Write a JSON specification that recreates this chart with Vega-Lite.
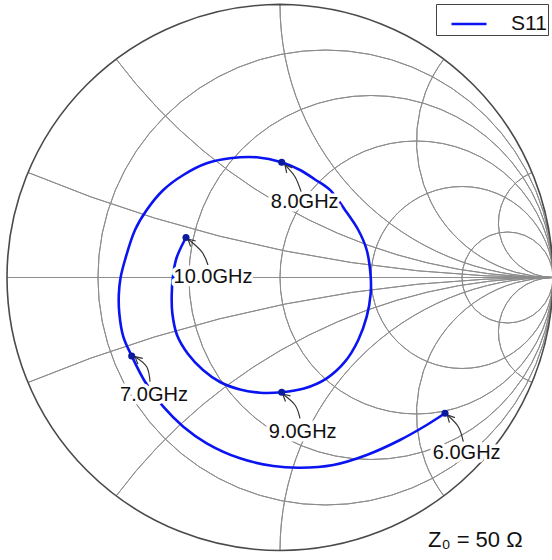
{
  "$schema": "https://vega.github.io/schema/vega-lite/v6.json",
  "width": 552,
  "height": 560,
  "padding": 0,
  "autosize": {"type": "none"},
  "background": "white",
  "config": {"view": {"stroke": null}, "font": "Liberation Sans"},
  "datasets": {
    "grid": [
      {"u": 0.16667, "v": 0, "rad": 0.83333, "t0": 0, "t1": 6.28319},
      {"u": 0.33333, "v": 0, "rad": 0.66667, "t0": 0, "t1": 6.28319},
      {"u": 0.5, "v": 0, "rad": 0.5, "t0": 0, "t1": 6.28319},
      {"u": 0.66667, "v": 0, "rad": 0.33333, "t0": 0, "t1": 6.28319},
      {"u": 0.83333, "v": 0, "rad": 0.16667, "t0": 0, "t1": 6.28319},
      {"u": 1, "v": 5, "rad": 5, "t0": 3.14159, "t1": 3.53638},
      {"u": 1, "v": 2, "rad": 2, "t0": 3.14159, "t1": 4.06889},
      {"u": 1, "v": 1, "rad": 1, "t0": 3.14159, "t1": 4.71239},
      {"u": 1, "v": 0.5, "rad": 0.5, "t0": 3.14159, "t1": 5.35589},
      {"u": 1, "v": 0.2, "rad": 0.2, "t0": 3.14159, "t1": 5.88839},
      {"u": 1, "v": -5, "rad": 5, "t0": -0.39479, "t1": 0},
      {"u": 1, "v": -2, "rad": 2, "t0": -0.9273, "t1": 0},
      {"u": 1, "v": -1, "rad": 1, "t0": -1.5708, "t1": 0},
      {"u": 1, "v": -0.5, "rad": 0.5, "t0": -2.2143, "t1": 0},
      {"u": 1, "v": -0.2, "rad": 0.2, "t0": -2.7468, "t1": 0}
    ],
    "outer": [{"u": 0, "v": 0, "rad": 1, "t0": 0, "t1": 6.28319}],
    "axisline": [{"u": -1, "u2": 1, "v": 0}],
    "s11": [
      {"series": "S11", "f": 6.0, "u": 0.6044, "v": -0.4974},
      {"series": "S11", "f": 6.083, "u": 0.5374, "v": -0.5403},
      {"series": "S11", "f": 6.167, "u": 0.4396, "v": -0.5952},
      {"series": "S11", "f": 6.25, "u": 0.3176, "v": -0.6502},
      {"series": "S11", "f": 6.333, "u": 0.1952, "v": -0.6868},
      {"series": "S11", "f": 6.417, "u": 0.0733, "v": -0.6967},
      {"series": "S11", "f": 6.5, "u": -0.0245, "v": -0.6905},
      {"series": "S11", "f": 6.583, "u": -0.1465, "v": -0.6623},
      {"series": "S11", "f": 6.667, "u": -0.2685, "v": -0.6073},
      {"series": "S11", "f": 6.75, "u": -0.3542, "v": -0.5465},
      {"series": "S11", "f": 6.833, "u": -0.4275, "v": -0.4733},
      {"series": "S11", "f": 6.917, "u": -0.4945, "v": -0.3817},
      {"series": "S11", "f": 7.0, "u": -0.5432, "v": -0.2875},
      {"series": "S11", "f": 7.077, "u": -0.574, "v": -0.2168},
      {"series": "S11", "f": 7.154, "u": -0.5886, "v": -0.1311},
      {"series": "S11", "f": 7.231, "u": -0.5905, "v": -0.0641},
      {"series": "S11", "f": 7.308, "u": -0.5842, "v": -0.0018},
      {"series": "S11", "f": 7.385, "u": -0.5678, "v": 0.0641},
      {"series": "S11", "f": 7.462, "u": -0.5311, "v": 0.174},
      {"series": "S11", "f": 7.538, "u": -0.4883, "v": 0.2473},
      {"series": "S11", "f": 7.615, "u": -0.4275, "v": 0.3205},
      {"series": "S11", "f": 7.692, "u": -0.3542, "v": 0.3755},
      {"series": "S11", "f": 7.769, "u": -0.2685, "v": 0.4183},
      {"series": "S11", "f": 7.846, "u": -0.1832, "v": 0.4366},
      {"series": "S11", "f": 7.923, "u": -0.0853, "v": 0.4403},
      {"series": "S11", "f": 8.0, "u": 0.0062, "v": 0.4223},
      {"series": "S11", "f": 8.071, "u": 0.0733, "v": 0.3938},
      {"series": "S11", "f": 8.143, "u": 0.1282, "v": 0.359},
      {"series": "S11", "f": 8.214, "u": 0.1832, "v": 0.3205},
      {"series": "S11", "f": 8.286, "u": 0.2381, "v": 0.2473},
      {"series": "S11", "f": 8.357, "u": 0.2868, "v": 0.174},
      {"series": "S11", "f": 8.429, "u": 0.3176, "v": 0.1007},
      {"series": "S11", "f": 8.5, "u": 0.3322, "v": 0.0029},
      {"series": "S11", "f": 8.571, "u": 0.3322, "v": -0.0579},
      {"series": "S11", "f": 8.643, "u": 0.3176, "v": -0.1436},
      {"series": "S11", "f": 8.714, "u": 0.2868, "v": -0.2289},
      {"series": "S11", "f": 8.786, "u": 0.2381, "v": -0.3084},
      {"series": "S11", "f": 8.857, "u": 0.1711, "v": -0.3692},
      {"series": "S11", "f": 8.929, "u": 0.0879, "v": -0.4066},
      {"series": "S11", "f": 9.0, "u": 0.0062, "v": -0.4201},
      {"series": "S11", "f": 9.091, "u": -0.0733, "v": -0.422},
      {"series": "S11", "f": 9.182, "u": -0.1465, "v": -0.4103},
      {"series": "S11", "f": 9.273, "u": -0.2198, "v": -0.3828},
      {"series": "S11", "f": 9.364, "u": -0.2821, "v": -0.3388},
      {"series": "S11", "f": 9.455, "u": -0.337, "v": -0.2802},
      {"series": "S11", "f": 9.545, "u": -0.3773, "v": -0.2106},
      {"series": "S11", "f": 9.636, "u": -0.3945, "v": -0.13},
      {"series": "S11", "f": 9.727, "u": -0.3967, "v": -0.0641},
      {"series": "S11", "f": 9.818, "u": -0.3919, "v": 0.0055},
      {"series": "S11", "f": 9.909, "u": -0.3791, "v": 0.0714},
      {"series": "S11", "f": 10.0, "u": -0.3443, "v": 0.1465}
    ],
    "markers": [
      {"label": "6.0GHz", "u": 0.6044, "v": -0.4974, "lu": 0.6839, "lv": -0.644},
      {"label": "7.0GHz", "u": -0.5432, "v": -0.2875, "lu": -0.4615, "lv": -0.4304},
      {"label": "8.0GHz", "u": 0.0062, "v": 0.4223, "lu": 0.0905, "lv": 0.2777},
      {"label": "9.0GHz", "u": 0.0062, "v": -0.4201, "lu": 0.0832, "lv": -0.5648},
      {"label": "10.0GHz", "u": -0.3443, "v": 0.1465, "lu": -0.2454, "lv": 0.0029}
    ],
    "shafts": [
      {"aid": "a8", "k": 1, "u": 0.0795, "v": 0.3084},
      {"aid": "a8", "k": 2, "u": 0.0549, "v": 0.3693},
      {"aid": "a8", "k": 3, "u": 0.0183, "v": 0.4121},
      {"aid": "a10", "k": 1, "u": -0.2637, "v": 0.0458},
      {"aid": "a10", "k": 2, "u": -0.2868, "v": 0.0945},
      {"aid": "a10", "k": 3, "u": -0.337, "v": 0.141},
      {"aid": "a7", "k": 1, "u": -0.4762, "v": -0.3817},
      {"aid": "a7", "k": 2, "u": -0.4883, "v": -0.3267},
      {"aid": "a7", "k": 3, "u": -0.5311, "v": -0.2901},
      {"aid": "a9", "k": 1, "u": 0.0733, "v": -0.5158},
      {"aid": "a9", "k": 2, "u": 0.0549, "v": -0.467},
      {"aid": "a9", "k": 3, "u": 0.0099, "v": -0.4267},
      {"aid": "a6", "k": 1, "u": 0.6714, "v": -0.6015},
      {"aid": "a6", "k": 2, "u": 0.6531, "v": -0.5465},
      {"aid": "a6", "k": 3, "u": 0.6128, "v": -0.5037}
    ],
    "heads": [
      {"aid": "h8", "k": 1, "u": 0.0245, "v": 0.3835},
      {"aid": "h8", "k": 2, "u": 0.0183, "v": 0.4121},
      {"aid": "h8", "k": 3, "u": 0.0454, "v": 0.4015},
      {"aid": "h10", "k": 1, "u": -0.3275, "v": 0.1132},
      {"aid": "h10", "k": 2, "u": -0.337, "v": 0.141},
      {"aid": "h10", "k": 3, "u": -0.3088, "v": 0.1337},
      {"aid": "h7", "k": 1, "u": -0.5205, "v": -0.3172},
      {"aid": "h7", "k": 2, "u": -0.5311, "v": -0.2901},
      {"aid": "h7", "k": 3, "u": -0.5026, "v": -0.2963},
      {"aid": "h9", "k": 1, "u": 0.0201, "v": -0.4542},
      {"aid": "h9", "k": 2, "u": 0.0099, "v": -0.4267},
      {"aid": "h9", "k": 3, "u": 0.0385, "v": -0.4337},
      {"aid": "h6", "k": 1, "u": 0.6205, "v": -0.5319},
      {"aid": "h6", "k": 2, "u": 0.6128, "v": -0.5037},
      {"aid": "h6", "k": 3, "u": 0.6407, "v": -0.5132}
    ],
    "z0": [{"text": "Z₀ = 50 Ω", "u": 0.542, "v": -0.986}]
  },
  "layer": [
    {
      "data": {"name": "grid"},
      "mark": {"type": "arc", "filled": false, "stroke": "#8c8c8c", "strokeWidth": 1},
      "encoding": {
        "x": {"field": "u", "type": "quantitative", "scale": {"domain": [-1.02564, 0.99634], "nice": false, "zero": false}, "axis": null},
        "y": {"field": "v", "type": "quantitative", "scale": {"domain": [-1.0348, 1.01648], "nice": false, "zero": false}, "axis": null},
        "theta": {"field": "t0", "type": "quantitative", "scale": null, "stack": null},
        "theta2": {"field": "t1"},
        "radius": {"field": "rad", "type": "quantitative", "scale": {"type": "linear", "domain": [0, 1], "range": [0, 273], "zero": true}},
        "radius2": {"field": "rad"}
      }
    },
    {
      "data": {"name": "axisline"},
      "mark": {"type": "rule", "stroke": "#8c8c8c", "strokeWidth": 1},
      "encoding": {
        "x": {"field": "u", "type": "quantitative", "scale": {"domain": [-1.02564, 0.99634], "nice": false, "zero": false}, "axis": null},
        "x2": {"field": "u2"},
        "y": {"field": "v", "type": "quantitative", "scale": {"domain": [-1.0348, 1.01648], "nice": false, "zero": false}, "axis": null}
      }
    },
    {
      "data": {"name": "outer"},
      "mark": {"type": "arc", "filled": false, "stroke": "#4a4a4a", "strokeWidth": 1.6},
      "encoding": {
        "x": {"field": "u", "type": "quantitative", "scale": {"domain": [-1.02564, 0.99634], "nice": false, "zero": false}, "axis": null},
        "y": {"field": "v", "type": "quantitative", "scale": {"domain": [-1.0348, 1.01648], "nice": false, "zero": false}, "axis": null},
        "theta": {"field": "t0", "type": "quantitative", "scale": null, "stack": null},
        "theta2": {"field": "t1"},
        "radius": {"field": "rad", "type": "quantitative", "scale": {"type": "linear", "domain": [0, 1], "range": [0, 273], "zero": true}},
        "radius2": {"field": "rad"}
      }
    },
    {
      "data": {"name": "s11"},
      "mark": {"type": "line", "strokeWidth": 2.6, "interpolate": "catmull-rom"},
      "encoding": {
        "x": {"field": "u", "type": "quantitative", "scale": {"domain": [-1.02564, 0.99634], "nice": false, "zero": false}, "axis": null},
        "y": {"field": "v", "type": "quantitative", "scale": {"domain": [-1.0348, 1.01648], "nice": false, "zero": false}, "axis": null},
        "order": {"field": "f", "type": "quantitative"},
        "color": {
          "field": "series", "type": "nominal",
          "scale": {"domain": ["S11"], "range": ["#0a14f0"]},
          "legend": {
            "title": null, "orient": "none", "legendX": 436, "legendY": 4,
            "fillColor": "white", "strokeColor": "#444", "padding": 1,
            "cornerRadius": 0, "symbolType": "stroke", "symbolSize": 1225,
            "symbolStrokeWidth": 2.6, "symbolOffset": 13,
            "labelFontSize": 21, "labelFont": "Liberation Sans", "labelColor": "#111",
            "labelOffset": 23, "labelExpr": "datum.label + '\u00a0\u00a0\u00a0\u00a0'"
          }
        }
      }
    },
    {
      "data": {"name": "shafts"},
      "mark": {"type": "line", "stroke": "#333333", "strokeWidth": 1.2, "interpolate": "cardinal"},
      "encoding": {
        "x": {"field": "u", "type": "quantitative", "scale": {"domain": [-1.02564, 0.99634], "nice": false, "zero": false}, "axis": null},
        "y": {"field": "v", "type": "quantitative", "scale": {"domain": [-1.0348, 1.01648], "nice": false, "zero": false}, "axis": null},
        "detail": {"field": "aid", "type": "nominal"},
        "order": {"field": "k", "type": "quantitative"}
      }
    },
    {
      "data": {"name": "heads"},
      "mark": {"type": "line", "stroke": "#333333", "strokeWidth": 1.2},
      "encoding": {
        "x": {"field": "u", "type": "quantitative", "scale": {"domain": [-1.02564, 0.99634], "nice": false, "zero": false}, "axis": null},
        "y": {"field": "v", "type": "quantitative", "scale": {"domain": [-1.0348, 1.01648], "nice": false, "zero": false}, "axis": null},
        "detail": {"field": "aid", "type": "nominal"},
        "order": {"field": "k", "type": "quantitative"}
      }
    },
    {
      "data": {"name": "markers"},
      "mark": {"type": "point", "shape": "circle", "filled": true, "size": 50, "color": "#0b1a9e", "opacity": 1},
      "encoding": {
        "x": {"field": "u", "type": "quantitative", "scale": {"domain": [-1.02564, 0.99634], "nice": false, "zero": false}, "axis": null},
        "y": {"field": "v", "type": "quantitative", "scale": {"domain": [-1.0348, 1.01648], "nice": false, "zero": false}, "axis": null}
      }
    },
    {
      "data": {"name": "markers"},
      "mark": {"type": "text", "font": "Liberation Sans", "fontSize": 20, "align": "center", "baseline": "middle", "fill": "white", "stroke": "white", "strokeWidth": 7, "strokeJoin": "round"},
      "encoding": {
        "x": {"field": "lu", "type": "quantitative", "scale": {"domain": [-1.02564, 0.99634], "nice": false, "zero": false}, "axis": null},
        "y": {"field": "lv", "type": "quantitative", "scale": {"domain": [-1.0348, 1.01648], "nice": false, "zero": false}, "axis": null},
        "text": {"field": "label", "type": "nominal"}
      }
    },
    {
      "data": {"name": "markers"},
      "mark": {"type": "text", "font": "Liberation Sans", "fontSize": 20, "align": "center", "baseline": "middle", "color": "#111111"},
      "encoding": {
        "x": {"field": "lu", "type": "quantitative", "scale": {"domain": [-1.02564, 0.99634], "nice": false, "zero": false}, "axis": null},
        "y": {"field": "lv", "type": "quantitative", "scale": {"domain": [-1.0348, 1.01648], "nice": false, "zero": false}, "axis": null},
        "text": {"field": "label", "type": "nominal"}
      }
    },
    {
      "data": {"name": "z0"},
      "mark": {"type": "text", "font": "Liberation Sans", "fontSize": 22, "align": "left", "baseline": "alphabetic", "color": "#111111"},
      "encoding": {
        "x": {"field": "u", "type": "quantitative", "scale": {"domain": [-1.02564, 0.99634], "nice": false, "zero": false}, "axis": null},
        "y": {"field": "v", "type": "quantitative", "scale": {"domain": [-1.0348, 1.01648], "nice": false, "zero": false}, "axis": null},
        "text": {"field": "text", "type": "nominal"}
      }
    }
  ]
}
